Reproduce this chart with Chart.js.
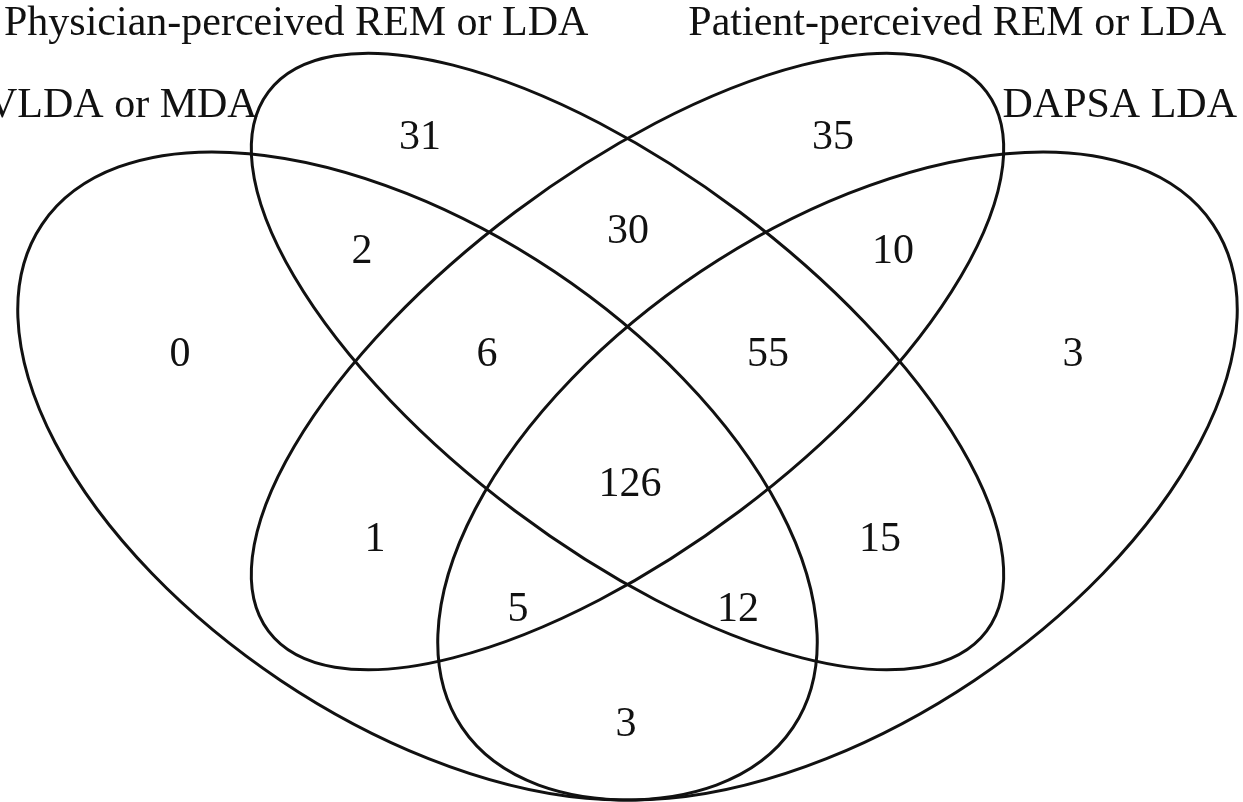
<!DOCTYPE html>
<html>
<head>
<meta charset="utf-8">
<script src="https://cdn.jsdelivr.net/npm/chart.js@4.4.1/dist/chart.umd.min.js"></script>
<style>
    html, body { margin: 0; padding: 0; background: #ffffff; }
    #venn { display: block; }
</style>
</head>
<body>
<canvas id="venn" width="1243" height="802"></canvas>
<script>
// Set names (A = far left, B = upper left, C = upper right, D = far right)
const setNames = ['VLDA or MDA', 'Physician-perceived REM or LDA', 'Patient-perceived REM or LDA', 'DAPSA LDA'];

// Region membership and patient counts
const regionSets = ['A', 'B', 'C', 'D', 'AB', 'BC', 'CD', 'ABC', 'BCD', 'ABCD', 'AC', 'BD', 'ACD', 'ABD', 'AD'];
const regionCounts = [0, 31, 35, 3, 2, 30, 10, 6, 55, 126, 1, 15, 5, 12, 3];

// Layout (drawing units, same as the 1243x802 frame)
const regionPos = [
    [180, 355], [420, 138], [833, 138], [1073, 355],
    [362, 252], [628, 232], [893, 252],
    [487, 355], [768, 355], [630, 485],
    [375, 540], [880, 540], [518, 610], [738, 610], [626, 725]
];
const labelPos = [
    { x: -13, y: 106, align: 'left' },
    { x: 4, y: 24, align: 'left' },
    { x: 1226, y: 24, align: 'right' },
    { x: 1237, y: 106, align: 'right' }
];
// ellipse: centre, semi axes, rotation in degrees (screen, clockwise)
const ellipses = [
    { cx: 417.5, cy: 476, a: 452, b: 246, rot: 33.8 },
    { cx: 627.5, cy: 361.5, a: 449, b: 187, rot: 36.9 },
    { cx: 627.5, cy: 361.5, a: 449, b: 187, rot: -36.9 },
    { cx: 837.5, cy: 476, a: 452, b: 246, rot: -33.8 }
];

const textFont = "42px 'Liberation Serif', 'Times New Roman', serif";
const inkColor = '#111111';

// Draws outlines, set names and region counts
const vennPlugin = {
    id: 'venn',
    afterDatasetsDraw(chart) {
        const ctx = chart.ctx;
        const xs = chart.scales.x;
        const ys = chart.scales.y;

        ctx.save();
        ctx.strokeStyle = inkColor;
        ctx.lineWidth = 3;
        ellipses.forEach(e => {
            const px = xs.getPixelForValue(e.cx);
            const py = ys.getPixelForValue(e.cy);
            const rx = Math.abs(xs.getPixelForValue(e.cx + e.a) - px);
            const ry = Math.abs(ys.getPixelForValue(e.cy + e.b) - py);
            ctx.beginPath();
            ctx.ellipse(px, py, rx, ry, e.rot * Math.PI / 180, 0, Math.PI * 2);
            ctx.stroke();
        });

        ctx.fillStyle = inkColor;
        ctx.font = textFont;
        ctx.textBaseline = 'middle';

        setNames.forEach((name, i) => {
            const p = labelPos[i];
            ctx.textAlign = p.align;
            ctx.fillText(name, xs.getPixelForValue(p.x), ys.getPixelForValue(p.y));
        });

        const meta = chart.getDatasetMeta(0);
        ctx.textAlign = 'center';
        meta.data.forEach((pt, i) => {
            ctx.fillText(String(regionCounts[i]), pt.x, pt.y);
        });
        ctx.restore();
    }
};

new Chart(document.getElementById('venn'), {
    type: 'scatter',
    data: {
        datasets: [{
            label: 'Regions',
            data: regionPos.map((p, i) => ({ x: p[0], y: p[1], sets: regionSets[i] })),
            pointRadius: 0,
            pointHoverRadius: 0
        }]
    },
    options: {
        responsive: false,
        animation: false,
        layout: { padding: 0 },
        plugins: {
            legend: { display: false },
            tooltip: { enabled: false }
        },
        scales: {
            x: { type: 'linear', min: 0, max: 1243, display: false },
            y: { type: 'linear', min: 0, max: 802, reverse: true, display: false }
        }
    },
    plugins: [vennPlugin]
});
</script>
</body>
</html>
